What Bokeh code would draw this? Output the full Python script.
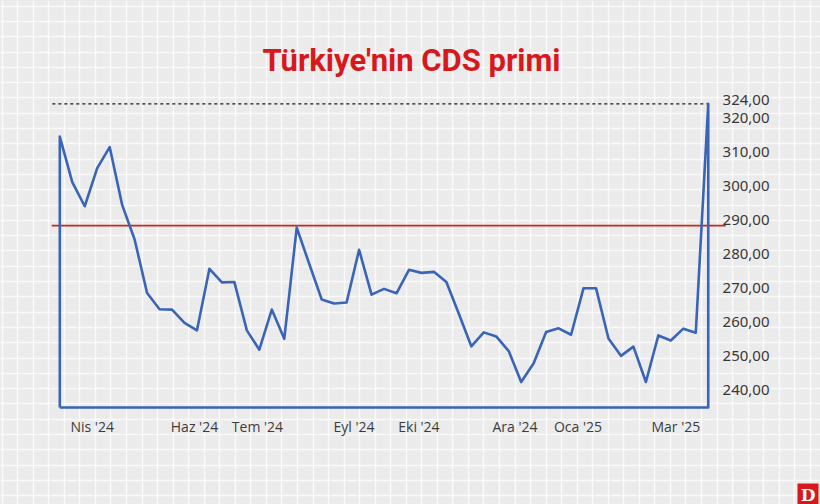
from bokeh.plotting import figure
from bokeh.models import Grid, FixedTicker, Range1d
from bokeh.embed import file_html
from bokeh.resources import INLINE
from bokeh.core.properties import value

# ---------------- data ----------------
cds = [314.4, 301.0, 293.9, 305.1, 311.3, 294.3, 284.1, 268.4, 263.6, 263.5,
       259.6, 257.4, 275.5, 271.5, 271.6, 257.4, 251.7, 263.5, 254.9, 287.6,
       277.0, 266.5, 265.3, 265.6, 281.1, 267.9, 269.6, 268.3, 275.2, 274.3,
       274.6, 271.6, 262.3, 252.7, 256.8, 255.6, 251.3, 242.2, 247.7, 256.9,
       258.0, 256.1, 269.8, 269.8, 255.0, 249.9, 252.6, 242.2, 255.9, 254.4,
       257.9, 256.7, 324.0]
month_labels = ["Nis '24", "Haz '24", "Tem '24", "Eyl '24", "Eki '24",
                "Ara '24", "Oca '25", "Mar '25"]
month_pos = [2.6, 10.8, 15.85, 23.6, 28.8, 36.5, 41.55, 49.4]
y_ticks = [240, 250, 260, 270, 280, 290, 300, 310, 320, 324]
y_tick_labels = ["240,00", "250,00", "260,00", "270,00", "280,00", "290,00",
                 "300,00", "310,00", "320,00", "324,00"]
ref_level = 288.2       # red reference line
y_base = 234.7          # bottom of the frame drawn around the series
title = "Türkiye'nin CDS primi"

# ---------------- layout (pixel mapping) ----------------
W, H = 820, 504
px_per_x = 12.47        # pixels per week
px_per_y = 3.4          # pixels per unit
x0_px = 59.3            # px of index 0
y320_px = 117.0         # px of value 320

x_start = -x0_px / px_per_x
x_end = (W - x0_px) / px_per_x
y_top = 320 + y320_px / px_per_y
y_bot = 320 - (H - y320_px) / px_per_y

def px2x(px):
    return (px - x0_px) / px_per_x

def px2y(py):
    return 320 - (py - y320_px) / px_per_y

BG = "#ebebeb"
p = figure(width=W, height=H, output_backend="svg", toolbar_location=None,
           x_axis_type=None, y_axis_type=None, min_border=0,
           x_range=Range1d(x_start, x_end), y_range=Range1d(y_bot, y_top),
           background_fill_color=BG, border_fill_color=BG, outline_line_color=None)

# graph-paper background
gx = [px2x(1.7 + 15.54 * k) for k in range(0, 54)]
gy = [px2y(5.6 + 15.3 * k) for k in range(0, 34)]
p.add_layout(Grid(dimension=0, ticker=FixedTicker(ticks=gx),
                  grid_line_color="white", grid_line_width=1.5, grid_line_alpha=0.75))
p.add_layout(Grid(dimension=1, ticker=FixedTicker(ticks=gy),
                  grid_line_color="white", grid_line_width=1.5, grid_line_alpha=0.75))

n = len(cds)
idx = list(range(n))

# max dashed line
p.line([-0.6, n - 1], [max(cds), max(cds)], line_color="#1a1a1a",
       line_width=1.3, line_dash="3 3")

# red reference line
p.line([-0.65, n - 1 + 1.4], [ref_level, ref_level], line_color="#c8281e",
       line_width=1.6)

# series outline (closed to the base)
xs = [0] + idx + [n - 1, 0]
ys = [y_base] + cds + [y_base, y_base]
p.line(xs, ys, line_color="#3a64b5", line_width=2.6, line_join="round")

# title
p.text([px2x(411)], [px2y(59.5)], text=[title], text_align="center",
       text_baseline="alphabetic", text_font=value("Roboto"), text_font_style="bold",
       text_font_size="31px", text_color="#d7191c")

# y tick labels (right side)
lab_x = px2x(769)
offs = [0] * (len(y_ticks) - 1) + [-4]
p.text([lab_x] * len(y_ticks), y_ticks, text=y_tick_labels, y_offset=offs,
       text_align="right", text_baseline="middle", text_font=value("Noto Sans"),
       text_font_size="15px", text_color="#383838")

# x month labels
p.text(month_pos, [px2y(426)] * len(month_pos), text=month_labels,
       text_align="center", text_baseline="middle", text_font=value("Open Sans"),
       text_font_size="14px", text_color="#3c3c3c")

# logo
p.rect([px2x(807.5)], [px2y(493.5)], width=21, height=21, width_units="screen",
       height_units="screen", fill_color="#d7191c", line_color=None)
p.text([px2x(807.5)], [px2y(494)], text=["D"], text_align="center",
       text_baseline="middle", text_font=value("DejaVu Serif"),
       text_font_style="bold", text_font_size="17px", text_color="white")

html = file_html(p, INLINE)
html = html.replace("</head>", "<style>html,body{background:#ebebeb;}</style></head>")
open("out.html", "w").write(html)
